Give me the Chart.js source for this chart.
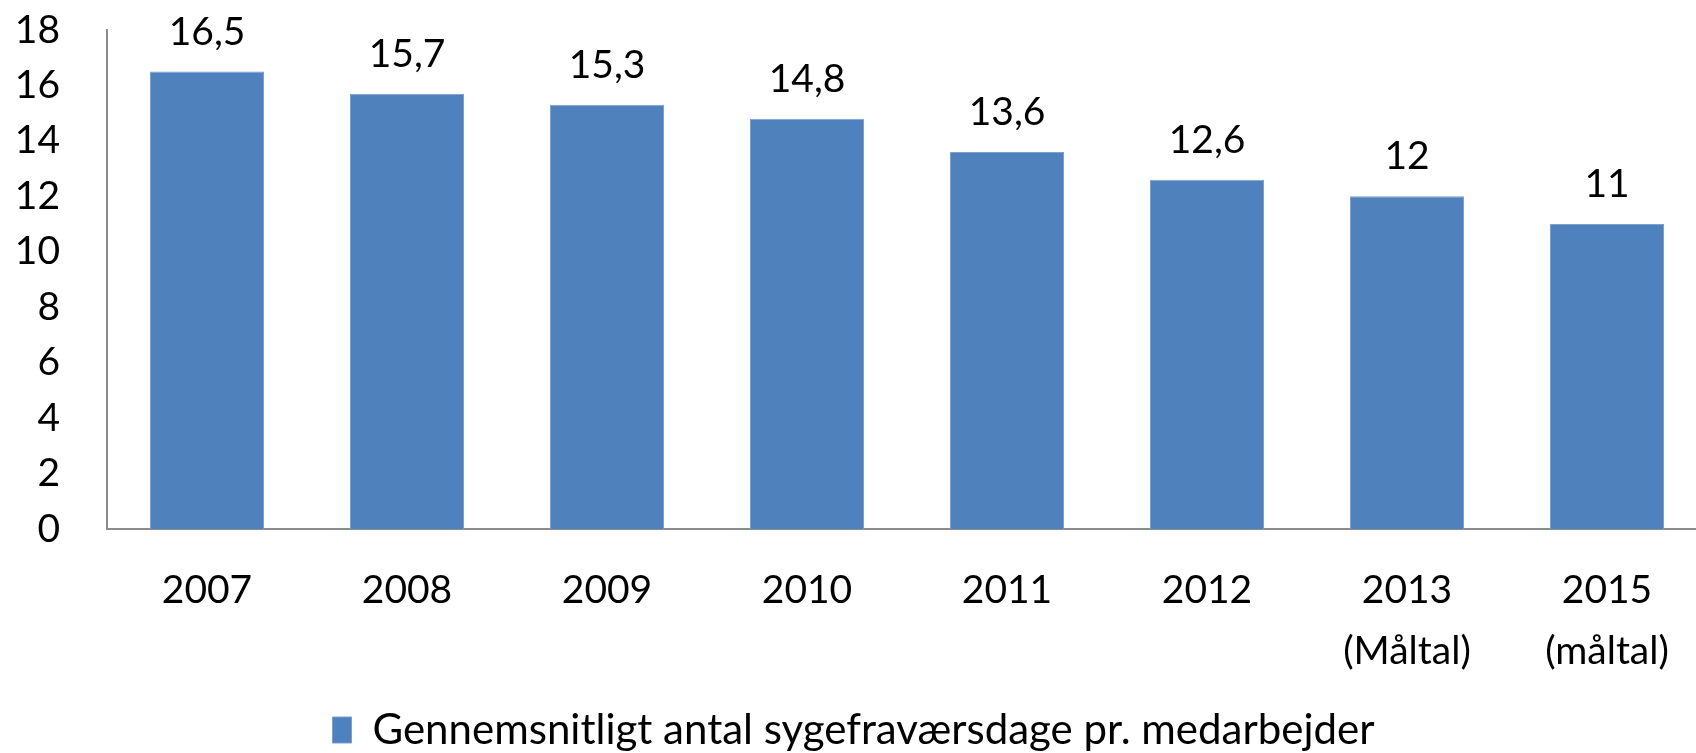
<!DOCTYPE html>
<html>
<head>
<meta charset="utf-8">
<script src="https://cdn.jsdelivr.net/npm/chart.js@4"></script>
<style>
  html, body { margin: 0; padding: 0; background: #fff; overflow: hidden; }
  canvas { display: block; }
</style>
</head>
<body>
<canvas id="sickChart" width="1707" height="753"></canvas>
<script>
const yearLabels = [
  "2007", "2008", "2009", "2010", "2011", "2012",
  ["2013", "(Måltal)"], ["2015", "(måltal)"]
];
const sickDays = [16.5, 15.7, 15.3, 14.8, 13.6, 12.6, 12, 11];
const seriesName = "Gennemsnitligt antal sygefraværsdage pr. medarbejder";
const yTicks = [0, 2, 4, 6, 8, 10, 12, 14, 16, 18];

const PLOT_BOTTOM = 529;
const PAD_BOTTOM = -8;

Chart.defaults.font.family = "Lato, 'Open Sans', sans-serif";
Chart.defaults.color = "#000";

// values above the bars, Danish decimal comma
const barValueLabels = {
  id: "barValueLabels",
  afterDatasetsDraw(chart) {
    const { ctx } = chart;
    const meta = chart.getDatasetMeta(0);
    ctx.save();
    ctx.font = "39px Lato";
    ctx.fillStyle = "#000";
    ctx.textAlign = "center";
    ctx.textBaseline = "alphabetic";
    meta.data.forEach((bar, i) => {
      const text = String(sickDays[i]).replace(".", ",");
      ctx.fillText(text, bar.x, bar.y - 27);
    });
    ctx.restore();
  }
};

new Chart(document.getElementById("sickChart"), {
  type: "bar",
  data: {
    labels: yearLabels,
    datasets: [
      {
        label: seriesName,
        data: sickDays,
        backgroundColor: "#4f81bd",
        borderColor: "#7d9fd0",
        borderWidth: 1,
        categoryPercentage: 1,
        barPercentage: 0.57
      }
    ]
  },
  options: {
    responsive: false,
    animation: false,
    layout: { padding: { top: 30, left: 0, right: 0, bottom: PAD_BOTTOM } },
    plugins: {
      tooltip: { enabled: false },
      legend: {
        position: "bottom",
        labels: {
          boxWidth: 19,
          boxHeight: 26,
          padding: 10,
          font: { size: 42 },
          color: "#000"
        }
      }
    },
    scales: {
      x: {
        grid: { display: false, drawTicks: false },
        border: { display: true, color: "#8c8c8c", width: 2 },
        ticks: { font: { size: 39, lineHeight: 1.56 }, padding: 31, maxRotation: 0, autoSkip: false },
        afterFit(scale) {
          scale.height = scale.chart.height - PAD_BOTTOM - scale.chart.legend.height - PLOT_BOTTOM;
        }
      },
      y: {
        min: 0,
        max: 18,
        afterBuildTicks(scale) {
          scale.ticks = yTicks.map((v) => ({ value: v }));
        },
        grid: { display: false, drawTicks: false },
        border: { display: true, color: "#8c8c8c", width: 2 },
        ticks: { font: { size: 39 }, padding: 47 },
        afterFit(scale) {
          scale.width = 107;
          // tick padding should not push the plot top down
          scale.paddingTop = 20;
          scale.paddingBottom = 20;
        }
      }
    }
  },
  plugins: [barValueLabels]
});
</script>
</body>
</html>
